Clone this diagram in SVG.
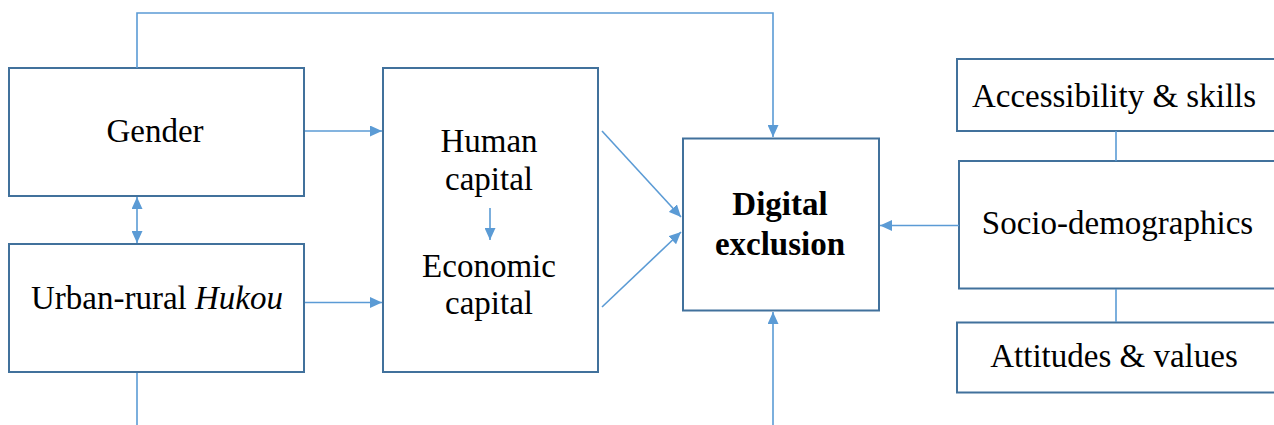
<svg xmlns="http://www.w3.org/2000/svg" width="1274" height="425" viewBox="0 0 1274 425">
  <style>
    .box { fill: #ffffff; stroke: #41719C; stroke-width: 2; }
    .wire { fill: none; stroke: #5B9BD5; stroke-width: 1.6; }
    .lbl { font-family: "Liberation Serif", "Times New Roman", serif; font-size: 33px; fill: #000000; text-anchor: middle; }
    .bold { font-weight: bold; }
    .it { font-style: italic; }
  </style>
  <defs>
    <marker id="head" markerUnits="userSpaceOnUse" markerWidth="12" markerHeight="11" refX="12" refY="5.5" orient="auto-start-reverse">
      <path d="M0,0 L12,5.5 L0,11 Z" fill="#5B9BD5"/>
    </marker>
  </defs>

  <rect width="1274" height="425" fill="#ffffff"/>

  <g id="gender">
    <rect class="box" x="9" y="68" width="295" height="128"/>
    <text class="lbl" x="155" y="142">Gender</text>
  </g>

  <g id="hukou">
    <rect class="box" x="9" y="244" width="295" height="128"/>
    <text class="lbl" x="157" y="308.5">Urban-rural <tspan class="it">Hukou</tspan></text>
  </g>

  <g id="capital">
    <rect class="box" x="383" y="68" width="215" height="304"/>
    <text class="lbl" x="489" y="151.5">Human</text>
    <text class="lbl" x="489" y="189.5">capital</text>
    <text class="lbl" x="489" y="276.5">Economic</text>
    <text class="lbl" x="489" y="313.5">capital</text>
  </g>

  <g id="digital-exclusion">
    <rect class="box" x="683" y="138.5" width="196" height="172"/>
    <text class="lbl bold" x="780" y="215">Digital</text>
    <text class="lbl bold" x="780" y="255">exclusion</text>
  </g>

  <g id="accessibility">
    <rect class="box" x="957" y="59" width="330" height="72"/>
    <text class="lbl" x="1114" y="106.5">Accessibility &amp; skills</text>
  </g>

  <g id="socio-demographics">
    <rect class="box" x="959" y="161" width="330" height="127.5"/>
    <text class="lbl" x="1117.5" y="234">Socio-demographics</text>
  </g>

  <g id="attitudes">
    <rect class="box" x="957" y="322.5" width="330" height="70"/>
    <text class="lbl" x="1114" y="366.5">Attitudes &amp; values</text>
  </g>

  <!-- connectors, drawn over the boxes -->
  <g id="connectors">
    <polyline class="wire" points="137,68 137,13 773,13 773,137" marker-end="url(#head)"/>
    <line class="wire" x1="137" y1="197" x2="137" y2="243" marker-start="url(#head)" marker-end="url(#head)"/>
    <line class="wire" x1="305" y1="131" x2="382" y2="131" marker-end="url(#head)"/>
    <line class="wire" x1="305" y1="302.5" x2="382" y2="302.5" marker-end="url(#head)"/>
    <line class="wire" x1="490" y1="208" x2="490" y2="240" marker-end="url(#head)"/>
    <line class="wire" x1="602" y1="131" x2="681" y2="217" marker-end="url(#head)"/>
    <line class="wire" x1="602" y1="307" x2="681" y2="232" marker-end="url(#head)"/>
    <line class="wire" x1="137" y1="373" x2="137" y2="425"/>
    <line class="wire" x1="773" y1="425" x2="773" y2="312" marker-end="url(#head)"/>
    <line class="wire" x1="959" y1="225.5" x2="880" y2="225.5" marker-end="url(#head)"/>
    <line class="wire" x1="1116" y1="131" x2="1116" y2="161"/>
    <line class="wire" x1="1116" y1="289" x2="1116" y2="322"/>
  </g>
</svg>
